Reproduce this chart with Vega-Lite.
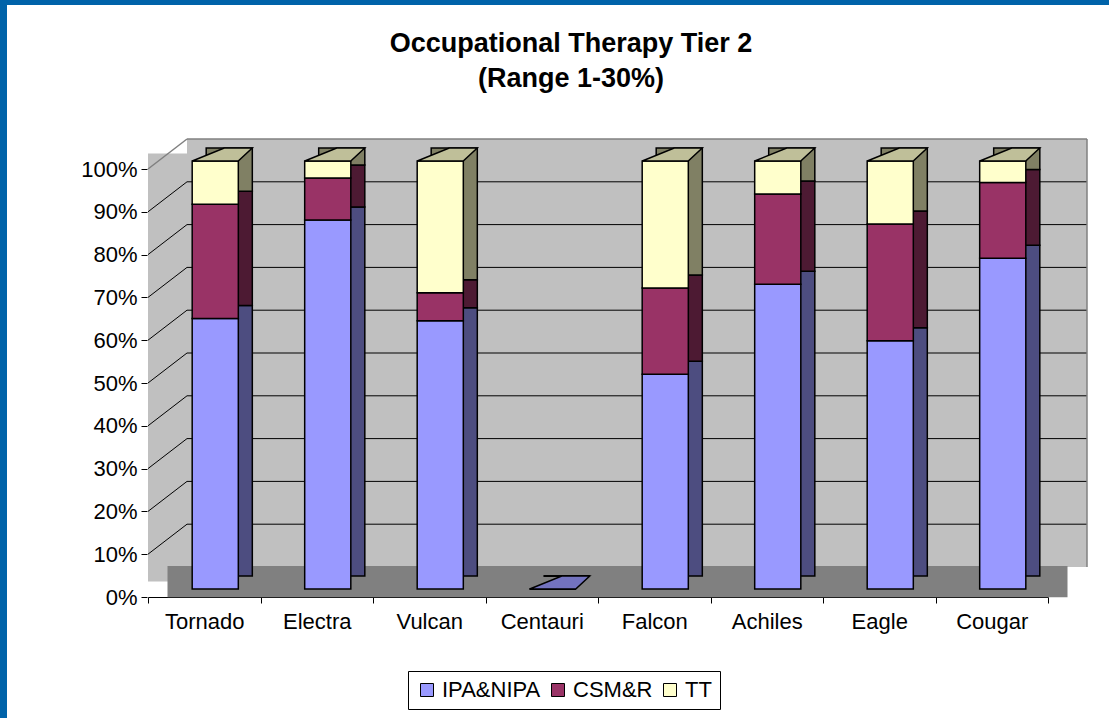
{
  "$schema": "https://vega.github.io/schema/vega-lite/v6.json",
  "width": 1102,
  "height": 713,
  "autosize": {"type": "none"},
  "padding": {"left": 7, "top": 5, "right": 0, "bottom": 0},
  "background": "#0063A9",
  "config": {
    "view": {"fill": "white", "stroke": null},
    "font": "Liberation Sans",
    "axisX": {
      "orient": "bottom",
      "offset": -110,
      "translate": -10.5,
      "tickBand": "extent",
      "domainColor": "black",
      "domainWidth": 1,
      "tickColor": "black",
      "tickSize": 6,
      "labelFontSize": 22,
      "labelFont": "Liberation Sans",
      "labelColor": "black",
      "labelPadding": 8,
      "labelAngle": 0,
      "grid": false,
      "zindex": 1
    },
    "axisY": {
      "orient": "left",
      "offset": -132,
      "translate": 8.5,
      "domain": false,
      "grid": false,
      "tickColor": "black",
      "tickSize": 6,
      "labelFontSize": 22,
      "labelFont": "Liberation Sans",
      "labelColor": "black",
      "labelPadding": 4,
      "zindex": 1
    }
  },
  "title": {
    "text": ["Occupational Therapy Tier 2", "(Range 1-30%)"],
    "fontSize": 27,
    "fontWeight": "bold",
    "font": "Liberation Sans",
    "color": "black",
    "anchor": "middle",
    "frame": "group",
    "offset": -28,
    "baseline": "top",
    "lineHeight": 35,
    "dx": 13,
    "dy": 60
  },
  "datasets": {
    "main": [
      {"cat": "Tornado", "series": "IPA&NIPA", "rank": 1, "value": 63.2},
      {"cat": "Tornado", "series": "CSM&R", "rank": 2, "value": 26.7},
      {"cat": "Tornado", "series": "TT", "rank": 3, "value": 10.1},
      {"cat": "Electra", "series": "IPA&NIPA", "rank": 1, "value": 86.2},
      {"cat": "Electra", "series": "CSM&R", "rank": 2, "value": 9.8},
      {"cat": "Electra", "series": "TT", "rank": 3, "value": 4.0},
      {"cat": "Vulcan", "series": "IPA&NIPA", "rank": 1, "value": 62.7},
      {"cat": "Vulcan", "series": "CSM&R", "rank": 2, "value": 6.5},
      {"cat": "Vulcan", "series": "TT", "rank": 3, "value": 30.8},
      {"cat": "Centauri", "series": "IPA&NIPA", "rank": 1, "value": 0},
      {"cat": "Centauri", "series": "CSM&R", "rank": 2, "value": 0},
      {"cat": "Centauri", "series": "TT", "rank": 3, "value": 0},
      {"cat": "Falcon", "series": "IPA&NIPA", "rank": 1, "value": 50.2},
      {"cat": "Falcon", "series": "CSM&R", "rank": 2, "value": 20.1},
      {"cat": "Falcon", "series": "TT", "rank": 3, "value": 29.7},
      {"cat": "Achiles", "series": "IPA&NIPA", "rank": 1, "value": 71.2},
      {"cat": "Achiles", "series": "CSM&R", "rank": 2, "value": 21.1},
      {"cat": "Achiles", "series": "TT", "rank": 3, "value": 7.7},
      {"cat": "Eagle", "series": "IPA&NIPA", "rank": 1, "value": 58.0},
      {"cat": "Eagle", "series": "CSM&R", "rank": 2, "value": 27.3},
      {"cat": "Eagle", "series": "TT", "rank": 3, "value": 14.7},
      {"cat": "Cougar", "series": "IPA&NIPA", "rank": 1, "value": 77.3},
      {"cat": "Cougar", "series": "CSM&R", "rank": 2, "value": 17.7},
      {"cat": "Cougar", "series": "TT", "rank": 3, "value": 5.0}
    ],
    "tops": [
      {"cat": "Tornado", "total": 100, "s": "TT"},
      {"cat": "Electra", "total": 100, "s": "TT"},
      {"cat": "Vulcan", "total": 100, "s": "TT"},
      {"cat": "Centauri", "total": 0, "s": "IPA&NIPA"},
      {"cat": "Falcon", "total": 100, "s": "TT"},
      {"cat": "Achiles", "total": 100, "s": "TT"},
      {"cat": "Eagle", "total": 100, "s": "TT"},
      {"cat": "Cougar", "total": 100, "s": "TT"}
    ],
    "grid": [{"v": 10}, {"v": 20}, {"v": 30}, {"v": 40}, {"v": 50}, {"v": 60}, {"v": 70}, {"v": 80}, {"v": 90}],
    "one": [{}]
  },
  "layer": [
    {
      "data": {"name": "main"},
      "mark": {"type": "bar", "width": {"band": 0.41}, "opacity": 0},
      "encoding": {
        "x": {
          "field": "cat",
          "type": "nominal",
          "scale": {
            "domain": ["Tornado", "Electra", "Vulcan", "Centauri", "Falcon", "Achiles", "Eagle", "Cougar"],
            "range": [152, 1052],
            "paddingInner": 0,
            "paddingOuter": 0
          },
          "axis": {"title": null}
        },
        "y": {
          "field": "value",
          "type": "quantitative",
          "stack": "zero",
          "scale": {"domain": [0, 100], "range": [584, 156], "nice": false, "zero": false},
          "axis": {
            "title": null,
            "values": [0, 10, 20, 30, 40, 50, 60, 70, 80, 90, 100],
            "labelExpr": "datum.value + '%'"
          }
        },
        "order": {"field": "rank"}
      }
    },
    {
      "data": {"name": "one"},
      "mark": {"type": "bar", "fill": "#C0C0C0", "xOffset": -11, "x2Offset": 28},
      "encoding": {
        "x": {"datum": "Tornado", "bandPosition": 0, "axis": {"title": null}},
        "x2": {"datum": "Tornado", "bandPosition": 0},
        "y": {"datum": 1.75, "axis": {"title": null, "values": [0, 10, 20, 30, 40, 50, 60, 70, 80, 90, 100], "labelExpr": "datum.value + '%'"}},
        "y2": {"datum": 101.75}
      }
    },
    {
      "data": {"name": "one"},
      "mark": {"type": "bar", "fill": "#C0C0C0", "xOffset": 28, "x2Offset": 28, "yOffset": -22, "y2Offset": -22},
      "encoding": {
        "x": {"datum": "Tornado", "bandPosition": 0, "axis": {"title": null}},
        "x2": {"datum": "Cougar", "bandPosition": 1},
        "y": {"datum": 0, "axis": {"title": null, "values": [0, 10, 20, 30, 40, 50, 60, 70, 80, 90, 100], "labelExpr": "datum.value + '%'"}},
        "y2": {"datum": 100}
      }
    },
    {
      "data": {"name": "one"},
      "mark": {"type": "bar", "fill": "#808080", "xOffset": 8.5, "x2Offset": 8.5},
      "encoding": {
        "x": {"datum": "Tornado", "bandPosition": 0, "axis": {"title": null}},
        "x2": {"datum": "Cougar", "bandPosition": 1},
        "y": {"datum": -1.9, "axis": {"title": null, "values": [0, 10, 20, 30, 40, 50, 60, 70, 80, 90, 100], "labelExpr": "datum.value + '%'"}},
        "y2": {"datum": 5.4}
      }
    },
    {
      "data": {"name": "grid"},
      "mark": {"type": "rule", "color": "black", "strokeWidth": 1, "xOffset": 28, "x2Offset": 28, "yOffset": -22},
      "encoding": {
        "x": {"datum": "Tornado", "bandPosition": 0, "axis": {"title": null}},
        "x2": {"datum": "Cougar", "bandPosition": 1},
        "y": {"field": "v", "type": "quantitative", "axis": {"title": null, "values": [0, 10, 20, 30, 40, 50, 60, 70, 80, 90, 100], "labelExpr": "datum.value + '%'"}}
      }
    },
    {
      "data": {"name": "grid"},
      "mark": {"type": "rule", "color": "black", "strokeWidth": 1, "xOffset": -11, "x2Offset": 28, "yOffset": 8, "y2Offset": -22},
      "encoding": {
        "x": {"datum": "Tornado", "bandPosition": 0, "axis": {"title": null}},
        "x2": {"datum": "Tornado", "bandPosition": 0},
        "y": {"field": "v", "type": "quantitative", "axis": {"title": null, "values": [0, 10, 20, 30, 40, 50, 60, 70, 80, 90, 100], "labelExpr": "datum.value + '%'"}},
        "y2": {"field": "v"}
      }
    },
    {
      "data": {"name": "one"},
      "mark": {"type": "rule", "color": "#808080", "strokeWidth": 1.5, "xOffset": 28, "x2Offset": 28, "yOffset": -22},
      "encoding": {
        "x": {"datum": "Tornado", "bandPosition": 0, "axis": {"title": null}},
        "x2": {"datum": "Cougar", "bandPosition": 1},
        "y": {"datum": 100, "axis": {"title": null, "values": [0, 10, 20, 30, 40, 50, 60, 70, 80, 90, 100], "labelExpr": "datum.value + '%'"}}
      }
    },
    {
      "data": {"name": "one"},
      "mark": {"type": "rule", "color": "#808080", "strokeWidth": 1.5, "xOffset": -11, "x2Offset": 28, "yOffset": 8, "y2Offset": -22},
      "encoding": {
        "x": {"datum": "Tornado", "bandPosition": 0, "axis": {"title": null}},
        "x2": {"datum": "Tornado", "bandPosition": 0},
        "y": {"datum": 100, "axis": {"title": null, "values": [0, 10, 20, 30, 40, 50, 60, 70, 80, 90, 100], "labelExpr": "datum.value + '%'"}},
        "y2": {"datum": 100}
      }
    },
    {
      "data": {"name": "one"},
      "mark": {"type": "rule", "color": "#808080", "strokeWidth": 1.5, "xOffset": 28, "yOffset": -22, "y2Offset": -22},
      "encoding": {
        "x": {"datum": "Cougar", "bandPosition": 1, "axis": {"title": null}},
        "y": {"datum": 0, "axis": {"title": null, "values": [0, 10, 20, 30, 40, 50, 60, 70, 80, 90, 100], "labelExpr": "datum.value + '%'"}},
        "y2": {"datum": 100}
      }
    },
    {
      "data": {"name": "main"},
      "mark": {"type": "bar", "width": {"band": 0.41}, "stroke": "black", "strokeWidth": 1.5, "xOffset": 14, "x2Offset": 14, "yOffset": -13, "y2Offset": -13},
      "encoding": {
        "x": {"field": "cat", "type": "nominal", "axis": {"title": null}},
        "y": {"field": "value", "type": "quantitative", "stack": "zero", "axis": {"title": null, "values": [0, 10, 20, 30, 40, 50, 60, 70, 80, 90, 100], "labelExpr": "datum.value + '%'"}},
        "order": {"field": "rank"},
        "fill": {
          "field": "series",
          "type": "nominal",
          "legend": null,
          "scale": {"domain": ["IPA&NIPA", "CSM&R", "TT"], "range": ["#4D4D80", "#4D1A33", "#808064"]}
        }
      }
    },
    {
      "data": {"name": "main"},
      "mark": {"type": "bar", "width": {"band": 0.41}, "stroke": "black", "strokeWidth": 1.5},
      "encoding": {
        "x": {"field": "cat", "type": "nominal", "axis": {"title": null}},
        "y": {"field": "value", "type": "quantitative", "stack": "zero", "axis": {"title": null, "values": [0, 10, 20, 30, 40, 50, 60, 70, 80, 90, 100], "labelExpr": "datum.value + '%'"}},
        "order": {"field": "rank"},
        "color": {
          "field": "series",
          "type": "nominal",
          "scale": {"domain": ["IPA&NIPA", "CSM&R", "TT"], "range": ["#9999FF", "#993366", "#FFFFCC"]},
          "legend": {
            "orient": "none",
            "legendX": 401,
            "legendY": 666,
            "direction": "horizontal",
            "title": null,
            "fillColor": "white",
            "strokeColor": "black",
            "padding": 8,
            "symbolType": "square",
            "symbolSize": 169,
            "symbolStrokeColor": "black",
            "symbolStrokeWidth": 1,
            "labelFontSize": 22,
            "labelFont": "Liberation Sans",
            "labelColor": "black",
            "labelOffset": 4,
            "columnPadding": 6
          }
        }
      }
    },
    {
      "data": {"name": "tops"},
      "mark": {"type": "point", "shape": "M-23,0L23,0L37,-13L9,-13Z", "size": 4, "filled": true, "opacity": 1, "stroke": "black", "strokeWidth": 1.5},
      "encoding": {
        "x": {"field": "cat", "type": "nominal", "axis": {"title": null}},
        "y": {"field": "total", "type": "quantitative", "axis": {"title": null, "values": [0, 10, 20, 30, 40, 50, 60, 70, 80, 90, 100], "labelExpr": "datum.value + '%'"}},
        "fill": {
          "field": "s",
          "type": "nominal",
          "legend": null,
          "scale": {"domain": ["IPA&NIPA", "TT"], "range": ["#7373BF", "#BFBF99"]}
        }
      }
    }
  ],
  "resolve": {"scale": {"fill": "independent"}}
}
